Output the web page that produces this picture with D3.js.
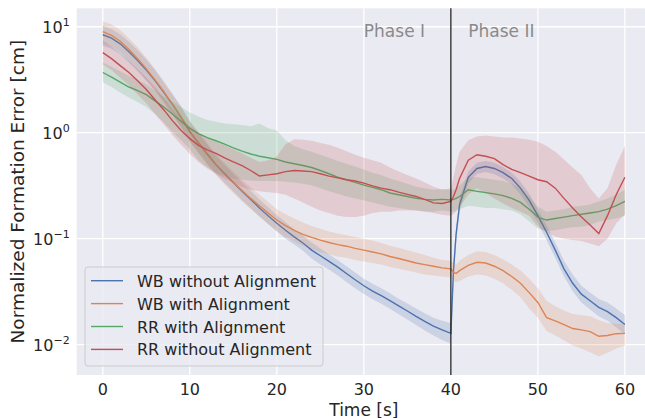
<!DOCTYPE html>
<html>
<head>
<meta charset="utf-8">
<script src="https://cdn.jsdelivr.net/npm/d3@7"></script>
<style>
  body { margin: 0; background: #fff; }
  text { font-family: "DejaVu Sans", sans-serif; fill: #262626; }
</style>
</head>
<body>
<svg id="chart" width="645" height="418"></svg>
<script>
// time samples [s]
const times = [0,1,2,3,4,5,6,7,8,9,10,11,12,13,14,15,16,17,18,19,20,21,22,23,24,25,26,27,28,29,30,31,32,33,34,35,36,37,38,39,40,
  40.3,40.6,41,42,43,44,45,46,47,48,49,50,51,52,53,54,55,56,57,58,59,60];

// WB without Alignment
const wbNoMean = [8.4,7.8,6.9,5.8,4.8,3.9,3.1,2.4,1.85,1.4,1.02,0.8,0.63,0.5,0.41,0.34,0.28,0.235,0.195,0.165,0.14,0.12,0.104,0.091,0.078,0.069,0.061,0.054,0.047,0.041,0.036,0.032,0.029,0.026,0.0232,0.0208,0.0185,0.0166,0.015,0.0138,0.0128,
  0.05,0.11,0.21,0.38,0.46,0.48,0.46,0.42,0.37,0.3,0.23,0.165,0.115,0.078,0.052,0.038,0.03,0.026,0.0225,0.0205,0.018,0.0155];
const wbNoLow = [6.6,6.2,5.5,4.6,3.8,3.1,2.5,1.95,1.5,1.13,0.83,0.65,0.51,0.41,0.335,0.28,0.23,0.195,0.162,0.138,0.117,0.1,0.088,0.077,0.065,0.057,0.051,0.045,0.039,0.034,0.03,0.0268,0.0243,0.0218,0.0194,0.0173,0.0153,0.0136,0.0122,0.0111,0.0102,
  0.04,0.09,0.18,0.33,0.41,0.425,0.405,0.37,0.325,0.26,0.198,0.14,0.097,0.066,0.044,0.032,0.025,0.0215,0.0185,0.0168,0.0146,0.0125];
const wbNoHigh = [10.2,9.5,8.5,7.2,6.0,4.9,3.9,3.0,2.3,1.75,1.27,1.0,0.78,0.61,0.5,0.41,0.34,0.283,0.235,0.198,0.167,0.143,0.123,0.107,0.092,0.081,0.071,0.063,0.055,0.048,0.042,0.0375,0.034,0.0305,0.0272,0.0245,0.022,0.0198,0.018,0.0168,0.016,
  0.06,0.13,0.245,0.43,0.52,0.54,0.52,0.475,0.42,0.345,0.265,0.19,0.135,0.092,0.062,0.046,0.036,0.031,0.027,0.025,0.022,0.019];

// WB with Alignment
const wbAlMean = [9.0,8.3,7.3,6.1,5.0,4.0,3.15,2.45,1.85,1.4,1.03,0.8,0.63,0.5,0.41,0.34,0.285,0.24,0.205,0.175,0.15,0.133,0.12,0.11,0.103,0.097,0.092,0.088,0.085,0.081,0.078,0.075,0.072,0.068,0.065,0.062,0.059,0.057,0.055,0.053,0.052,
  0.048,0.047,0.05,0.056,0.06,0.059,0.055,0.05,0.044,0.038,0.031,0.025,0.018,0.0168,0.0155,0.0142,0.0138,0.0133,0.012,0.0122,0.0127,0.0128];
const wbAlLow = [7.0,6.5,5.8,4.8,3.9,3.15,2.5,1.95,1.47,1.12,0.82,0.64,0.5,0.4,0.325,0.27,0.225,0.19,0.162,0.138,0.118,0.104,0.094,0.086,0.08,0.075,0.071,0.068,0.066,0.063,0.061,0.059,0.057,0.054,0.052,0.05,0.048,0.046,0.045,0.044,0.043,
  0.04,0.039,0.04,0.044,0.046,0.045,0.042,0.038,0.033,0.028,0.022,0.018,0.0135,0.0122,0.011,0.0098,0.0092,0.0085,0.0078,0.0084,0.0092,0.0098];
const wbAlHigh = [11.2,10.5,9.3,7.8,6.4,5.1,4.0,3.1,2.35,1.78,1.3,1.01,0.8,0.63,0.52,0.43,0.36,0.305,0.26,0.222,0.19,0.17,0.155,0.142,0.132,0.124,0.117,0.112,0.108,0.104,0.1,0.096,0.091,0.086,0.082,0.078,0.074,0.07,0.066,0.063,0.062,
  0.058,0.057,0.062,0.07,0.076,0.075,0.07,0.064,0.057,0.05,0.042,0.034,0.026,0.023,0.021,0.0195,0.019,0.0185,0.017,0.016,0.0158,0.0155];

// RR with Alignment
const rrAlMean = [3.7,3.35,3.0,2.7,2.5,2.29,2.0,1.75,1.5,1.28,1.1,0.98,0.9,0.84,0.78,0.72,0.67,0.63,0.6,0.58,0.56,0.53,0.51,0.49,0.47,0.44,0.41,0.38,0.36,0.34,0.32,0.305,0.29,0.27,0.26,0.25,0.24,0.235,0.232,0.235,0.232,
  0.235,0.24,0.25,0.29,0.28,0.272,0.265,0.255,0.24,0.22,0.19,0.16,0.15,0.155,0.16,0.165,0.17,0.175,0.18,0.19,0.205,0.225];
const rrAlLow = [3.0,2.7,2.4,2.15,1.95,1.75,1.5,1.25,1.02,0.85,0.7,0.55,0.47,0.42,0.39,0.37,0.36,0.355,0.35,0.35,0.35,0.345,0.34,0.33,0.32,0.3,0.28,0.265,0.25,0.24,0.23,0.22,0.21,0.2,0.195,0.19,0.185,0.182,0.18,0.185,0.18,
  0.18,0.185,0.19,0.205,0.2,0.195,0.195,0.19,0.185,0.17,0.145,0.125,0.118,0.12,0.125,0.128,0.13,0.135,0.145,0.15,0.155,0.165];
const rrAlHigh = [4.6,4.2,3.8,3.45,3.15,2.85,2.5,2.2,1.95,1.75,1.55,1.42,1.32,1.27,1.22,1.2,1.18,1.15,1.22,1.1,1.05,0.85,0.75,0.7,0.66,0.62,0.58,0.54,0.51,0.48,0.45,0.42,0.4,0.37,0.35,0.33,0.31,0.3,0.29,0.295,0.29,
  0.29,0.3,0.32,0.38,0.38,0.37,0.36,0.35,0.33,0.3,0.25,0.2,0.18,0.185,0.19,0.2,0.205,0.21,0.225,0.24,0.26,0.29];

// RR without Alignment
const rrNoMean = [5.7,5.0,4.3,3.7,3.1,2.56,2.05,1.65,1.3,1.05,0.88,0.76,0.69,0.64,0.58,0.53,0.49,0.44,0.39,0.4,0.41,0.43,0.44,0.435,0.43,0.41,0.39,0.375,0.36,0.35,0.335,0.315,0.3,0.29,0.275,0.262,0.25,0.235,0.218,0.215,0.225,
  0.25,0.29,0.37,0.55,0.62,0.6,0.57,0.5,0.45,0.42,0.39,0.36,0.345,0.3,0.24,0.195,0.16,0.135,0.112,0.165,0.26,0.38];
const rrNoLow = [4.4,3.9,3.3,2.8,2.3,1.9,1.5,1.2,0.95,0.77,0.63,0.53,0.46,0.41,0.37,0.34,0.31,0.29,0.28,0.275,0.27,0.26,0.24,0.22,0.2,0.185,0.175,0.165,0.16,0.16,0.165,0.175,0.18,0.18,0.185,0.185,0.185,0.18,0.175,0.168,0.165,
  0.17,0.18,0.2,0.26,0.3,0.27,0.24,0.215,0.195,0.18,0.165,0.13,0.115,0.105,0.1,0.097,0.095,0.09,0.085,0.1,0.14,0.17];
const rrNoHigh = [7.4,6.5,5.6,4.8,4.0,3.3,2.7,2.15,1.7,1.37,1.15,1.0,0.9,0.82,0.76,0.7,0.64,0.58,0.53,0.55,0.6,0.78,0.87,0.86,0.84,0.8,0.77,0.72,0.67,0.62,0.58,0.55,0.52,0.47,0.43,0.4,0.37,0.34,0.31,0.29,0.3,
  0.38,0.5,0.66,0.85,0.92,0.94,0.92,0.9,0.9,0.88,0.86,0.82,0.75,0.66,0.56,0.47,0.4,0.3,0.24,0.3,0.5,0.75];

const seriesNames = ["WB without Alignment", "WB with Alignment", "RR with Alignment", "RR without Alignment"];
const seriesColors = ["#4c72b0", "#dd8452", "#55a868", "#c44e52"];
const seriesMean = [wbNoMean, wbAlMean, rrAlMean, rrNoMean];
const seriesLow = [wbNoLow, wbAlLow, rrAlLow, rrNoLow];
const seriesHigh = [wbNoHigh, wbAlHigh, rrAlHigh, rrNoHigh];

const xTicks = [0, 10, 20, 30, 40, 50, 60];
const yTicks = [-2, -1, 0, 1];
const phaseLabels = [{t: 30, text: "Phase I"}, {t: 42, text: "Phase II"}];

const svg = d3.select("#chart");
const plotLeft = 76.7, plotRight = 651, plotTop = 8.3, plotBottom = 375;

const x = d3.scaleLinear().domain([-3, 63]).range([plotLeft, plotRight]);
const y = d3.scaleLog().domain([Math.pow(10, -2.286), Math.pow(10, 1.174)]).range([plotBottom, plotTop]);

svg.append("rect").attr("x", plotLeft).attr("y", plotTop)
  .attr("width", plotRight - plotLeft).attr("height", plotBottom - plotTop).attr("fill", "#eaeaf2");

// grid
svg.append("g").selectAll("line").data(xTicks).enter().append("line")
  .attr("x1", d => x(d)).attr("x2", d => x(d)).attr("y1", plotTop).attr("y2", plotBottom)
  .attr("stroke", "#fff").attr("stroke-width", 1.3);
svg.append("g").selectAll("line").data(yTicks).enter().append("line")
  .attr("x1", plotLeft).attr("x2", plotRight).attr("y1", d => y(Math.pow(10, d))).attr("y2", d => y(Math.pow(10, d)))
  .attr("stroke", "#fff").attr("stroke-width", 1.3);

// bands and lines
for (let s = 0; s < seriesNames.length; s++) {
  let pts = times.map((t, i) => ({t: t, m: seriesMean[s][i], lo: seriesLow[s][i], hi: seriesHigh[s][i]}));
  svg.append("path").datum(pts)
    .attr("d", d3.area().x(d => x(d.t)).y0(d => y(d.lo)).y1(d => y(d.hi)))
    .attr("fill", seriesColors[s]).attr("fill-opacity", 0.2);
  svg.append("path").datum(pts)
    .attr("d", d3.line().x(d => x(d.t)).y(d => y(d.m)))
    .attr("fill", "none").attr("stroke", seriesColors[s]).attr("stroke-width", 1.4);
}

// phase divider
svg.append("line").attr("x1", x(40)).attr("x2", x(40)).attr("y1", plotTop).attr("y2", plotBottom)
  .attr("stroke", "#222").attr("stroke-width", 1.3);
svg.append("g").selectAll("text").data(phaseLabels).enter().append("text")
  .attr("x", d => x(d.t)).attr("y", y(8))
  .attr("font-size", 17).style("fill", "#8a8a8a")
  .text(d => d.text);

// tick labels
svg.append("g").selectAll("text").data(xTicks).enter().append("text")
  .attr("x", d => x(d)).attr("y", plotBottom + 20)
  .attr("text-anchor", "middle").attr("font-size", 16)
  .text(d => d);
let yl = svg.append("g").selectAll("text").data(yTicks).enter().append("text")
  .attr("x", plotLeft - 7).attr("y", d => y(Math.pow(10, d)) + 6)
  .attr("text-anchor", "end").attr("font-size", 16);
yl.append("tspan").text("10");
yl.append("tspan").attr("font-size", 11).attr("dy", -7).text(d => d < 0 ? "\u2212" + (-d) : d);

// axis labels
svg.append("text").attr("x", (plotLeft + plotRight) / 2).attr("y", 415.5)
  .attr("text-anchor", "middle").attr("font-size", 17).text("Time [s]");
svg.append("text").attr("transform", "translate(24," + ((plotTop + plotBottom) / 2) + ") rotate(-90)")
  .attr("text-anchor", "middle").attr("font-size", 18.5).text("Normalized Formation Error [cm]");

// legend
const lg = svg.append("g");
lg.append("rect").attr("x", 85).attr("y", 267).attr("width", 238).attr("height", 99)
  .attr("rx", 3).attr("fill", "#eaeaf2").attr("fill-opacity", 0.8)
  .attr("stroke", "#cccccc").attr("stroke-width", 1);
seriesNames.forEach((name, i) => {
  const cy = 280.7 + i * 22.9;
  lg.append("line").attr("x1", 91).attr("x2", 123).attr("y1", cy).attr("y2", cy)
    .attr("stroke", seriesColors[i]).attr("stroke-width", 1.4);
  lg.append("text").attr("x", 137).attr("y", cy + 6).attr("font-size", 16).text(name);
});
</script>
</body>
</html>
